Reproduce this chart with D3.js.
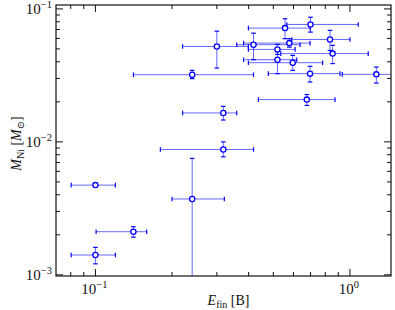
<!DOCTYPE html>
<html>
<head>
<meta charset="utf-8">
<script src="https://cdn.jsdelivr.net/npm/d3@7"></script>
<style>
  body { margin: 0; background: #fff; }
  text { font-family: "Liberation Serif", "DejaVu Serif", serif; fill: #111; }
</style>
</head>
<body>
<script>
// values (E_fin in B, M_Ni in Msun, with lower/upper bounds)
var eFin  = [0.700, 0.556, 0.300, 0.418, 0.578, 0.835, 0.519, 0.855, 0.519, 0.596, 0.697, 1.27, 0.240, 0.677, 0.318, 0.318, 0.100, 0.240, 0.141, 0.100];
var eLow  = [0.565, 0.399, 0.220, 0.359, 0.382, 0.591, 0.399, 0.535, 0.382, 0.399, 0.478, 0.933, 0.141, 0.437, 0.220, 0.180, 0.0803, 0.200, 0.1006, 0.0803];
var eHigh = [1.078, 0.697, 0.399, 0.637, 0.697, 1.000, 0.609, 1.180, 0.618, 0.781, 0.914, 1.60, 0.418, 0.874, 0.359, 0.418, 0.1198, 0.321, 0.159, 0.1198];
var mNi   = [0.0764, 0.0717, 0.0522, 0.0538, 0.0553, 0.0589, 0.0496, 0.0461, 0.0415, 0.0394, 0.0326, 0.0322, 0.0320, 0.0208, 0.0165, 0.00877, 0.00473, 0.00372, 0.00211, 0.00141];
var mLow  = [0.0669, 0.0597, 0.0359, 0.0415, 0.0516, 0.0487, 0.0455, 0.0388, 0.0326, 0.0345, 0.0282, 0.0277, 0.0299, 0.0188, 0.0146, 0.00772, 0.00460, 0.0005, 0.00192, 0.00121];
var mHigh = [0.0866, 0.0843, 0.0680, 0.0657, 0.0597, 0.0689, 0.0541, 0.0532, 0.0487, 0.0447, 0.0370, 0.0365, 0.0345, 0.0227, 0.0185, 0.0100, 0.00487, 0.00751, 0.00230, 0.00161];

var xMajor = [0.1, 1];
var xMinor = [0.08, 0.09, 0.2, 0.3, 0.4, 0.5, 0.6, 0.7, 0.8, 0.9];
var yMajor = [0.001, 0.01, 0.1];
var yMinor = [0.002, 0.003, 0.004, 0.005, 0.006, 0.007, 0.008, 0.009,
              0.02, 0.03, 0.04, 0.05, 0.06, 0.07, 0.08, 0.09];
var xExp = {0.1: "\u22121", 1: "0"};
var yExp = {0.001: "\u22123", 0.01: "\u22122", 0.1: "\u22121"};

var margin = {top: 5, right: 4, bottom: 34, left: 56},
    width = 395 - margin.left - margin.right,
    height = 310 - margin.top - margin.bottom;

var data = eFin.map(function(d, i) {
  return {x: d, xl: eLow[i], xh: eHigh[i], y: mNi[i], yl: mLow[i], yh: mHigh[i]};
});

var xScale = d3.scaleLog().domain([0.07, 1.45]).range([0, width]);
var yScale = d3.scaleLog().domain([0.00098, 0.107]).range([height, 0]);

var svg = d3.select("body").append("svg")
    .attr("width", 395)
    .attr("height", 310)
  .append("g")
    .attr("transform", "translate(" + margin.left + "," + margin.top + ")");

svg.append("clipPath").attr("id", "clip")
  .append("rect").attr("width", width).attr("height", height);

// ticks, pointing inward on all four sides
var ticks = svg.append("g").attr("stroke", "#111").attr("stroke-width", 1);
function xTicks(vals, len) {
  vals.forEach(function(v) {
    var x = xScale(v);
    ticks.append("line").attr("x1", x).attr("x2", x).attr("y1", height).attr("y2", height - len);
    ticks.append("line").attr("x1", x).attr("x2", x).attr("y1", 0).attr("y2", len);
  });
}
function yTicks(vals, len) {
  vals.forEach(function(v) {
    var y = yScale(v);
    ticks.append("line").attr("x1", 0).attr("x2", len).attr("y1", y).attr("y2", y);
    ticks.append("line").attr("x1", width).attr("x2", width - len).attr("y1", y).attr("y2", y);
  });
}
xTicks(xMajor, 7); xTicks(xMinor, 4);
yTicks(yMajor, 7); yTicks(yMinor, 4);

// tick labels
xMajor.forEach(function(v) {
  var t = svg.append("text")
    .attr("x", xScale(v) - 1)
    .attr("y", height + 18)
    .attr("text-anchor", "middle")
    .style("font-size", "15px");
  t.append("tspan").text("10");
  t.append("tspan").attr("dy", -6).style("font-size", "10.5px").text(xExp[v]);
});
yMajor.forEach(function(v) {
  var t = svg.append("text")
    .attr("x", -4)
    .attr("y", yScale(v) + 5)
    .attr("text-anchor", "end")
    .style("font-size", "15px");
  t.append("tspan").text("10");
  t.append("tspan").attr("dy", -6).style("font-size", "10.5px").text(yExp[v]);
});

// error bars
var eb = svg.append("g").attr("clip-path", "url(#clip)");
var bars = eb.selectAll(".eb").data(data).enter().append("g").attr("class", "eb");

bars.append("line")
  .attr("x1", function(d) { return xScale(d.xl); })
  .attr("x2", function(d) { return xScale(d.xh); })
  .attr("y1", function(d) { return yScale(d.y); })
  .attr("y2", function(d) { return yScale(d.y); })
  .attr("stroke", "#0000ff").attr("stroke-opacity", 0.6).attr("stroke-width", 1);
bars.append("line")
  .attr("x1", function(d) { return xScale(d.x); })
  .attr("x2", function(d) { return xScale(d.x); })
  .attr("y1", function(d) { return yScale(d.yl); })
  .attr("y2", function(d) { return yScale(d.yh); })
  .attr("stroke", "#0000ff").attr("stroke-opacity", 0.6).attr("stroke-width", 1);

// caps
["xl", "xh"].forEach(function(k) {
  bars.append("line")
    .attr("x1", function(d) { return xScale(d[k]); })
    .attr("x2", function(d) { return xScale(d[k]); })
    .attr("y1", function(d) { return yScale(d.y) - 2.3; })
    .attr("y2", function(d) { return yScale(d.y) + 2.3; })
    .attr("stroke", "#0000ff").attr("stroke-width", 1.2);
});
["yl", "yh"].forEach(function(k) {
  bars.append("line")
    .attr("x1", function(d) { return xScale(d.x) - 2.3; })
    .attr("x2", function(d) { return xScale(d.x) + 2.3; })
    .attr("y1", function(d) { return yScale(d[k]); })
    .attr("y2", function(d) { return yScale(d[k]); })
    .attr("stroke", "#0000ff").attr("stroke-width", 1.2);
});

// markers
svg.selectAll(".dot").data(data).enter().append("circle")
  .attr("class", "dot")
  .attr("cx", function(d) { return xScale(d.x); })
  .attr("cy", function(d) { return yScale(d.y); })
  .attr("r", 2.6)
  .attr("fill", "#fff")
  .attr("stroke", "#0000ff")
  .attr("stroke-width", 1.3);

// frame
svg.append("rect")
  .attr("width", width).attr("height", height)
  .attr("fill", "none").attr("stroke", "#111").attr("stroke-width", 1.2);

// axis labels
var xl = svg.append("text")
  .attr("x", width / 2 + 5)
  .attr("y", height + 29)
  .attr("text-anchor", "middle")
  .style("font-size", "14px");
xl.append("tspan").style("font-style", "italic").text("E");
xl.append("tspan").attr("dy", 3).style("font-size", "10px").text("fin");
xl.append("tspan").attr("dy", -3).text(" [B]");

var yl = svg.append("text")
  .attr("transform", "translate(" + (-35) + "," + (height / 2 + 3) + ") rotate(-90)")
  .attr("text-anchor", "middle")
  .style("font-size", "14px");
yl.append("tspan").style("font-style", "italic").text("M");
yl.append("tspan").attr("dy", 3).style("font-size", "10px").text("Ni");
yl.append("tspan").attr("dy", -3).text(" [");
yl.append("tspan").style("font-style", "italic").text("M");
yl.append("tspan").attr("dy", 3).style("font-size", "10px").text("\u2299");
yl.append("tspan").attr("dy", -3).text("]");
</script>
</body>
</html>
